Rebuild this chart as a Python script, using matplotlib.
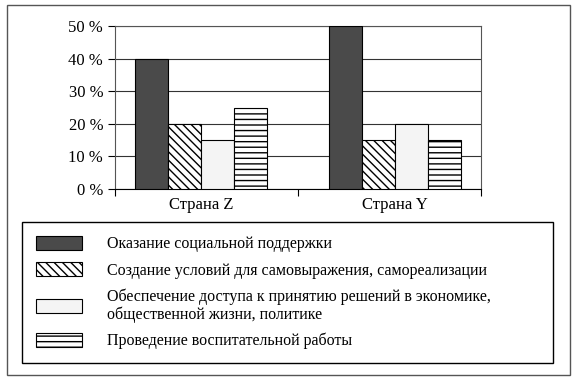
import matplotlib.pyplot as plt
import numpy as np
from matplotlib.patches import Rectangle

plt.rcParams['font.family'] = 'Liberation Serif'
plt.rcParams['hatch.linewidth'] = 1.0

countries = ["Страна Z", "Страна Y"]
labels = [
    "Оказание социальной поддержки",
    "Создание условий для самовыражения, самореализации",
    "Обеспечение доступа к принятию решений в экономике,\nобщественной жизни, политике",
    "Проведение воспитательной работы",
]
support = [40, 50]
selfexpr = [20, 15]
access = [15, 20]
education = [25, 15]
series = [support, selfexpr, access, education]

styles = [
    dict(color="#4a4a4a", hatch=None),
    dict(color="white", hatch="\\\\\\\\"),
    dict(color="#f4f4f4", hatch=None),
    dict(color="white", hatch="---"),
]

fig = plt.figure(figsize=(5.77, 3.82), dpi=100)
# outer frame
fig.patches.append(Rectangle((7 / 577, 1 - 375 / 382), 563 / 577, 370 / 382,
                             transform=fig.transFigure, fill=False,
                             edgecolor="#555555", linewidth=1.0))

ax = fig.add_axes([115 / 577, 1 - 189 / 382, 366 / 577, 163 / 382])
x = np.arange(len(countries))
w = 0.17
handles = []
for i, vals in enumerate(series):
    st = styles[i]
    b = ax.bar(x + (i - 1.5) * w, vals, w, color=st["color"], hatch=st["hatch"],
               edgecolor="black", linewidth=0.8, zorder=3)
    handles.append(b)

ax.set_ylim(0, 50)
ax.set_xlim(-0.443, 1.443)
ax.set_yticks(range(0, 51, 10))
ax.set_yticklabels([f"{v} %" for v in range(0, 51, 10)], fontsize=12)
ax.yaxis.grid(True, color="#333333", linewidth=0.8, zorder=0)
ax.set_xticks(x)
ax.set_xticklabels(countries, fontsize=12)
ax.tick_params(axis="x", length=0, pad=6)
ax.tick_params(axis="y", length=5, direction="out", width=0.8)
ax.set_xticks([-0.443, 0.5, 1.443], minor=True)
ax.tick_params(axis="x", which="minor", length=5, width=0.8)
for s in ax.spines.values():
    s.set_color("#555555")
    s.set_linewidth(0.8)
ax.spines["bottom"].set_color("black")

leg = fig.legend(handles, labels, loc="upper left",
                 bbox_to_anchor=(22 / 577, 1 - 360 / 382, 531 / 577, 138 / 382),
                 mode="expand", frameon=True, fancybox=False, fontsize=11.5,
                 handlelength=2.9, handleheight=1.0, handletextpad=1.6,
                 labelspacing=0.62, borderpad=0.85, borderaxespad=0)
for t in leg.get_texts():
    t.set_linespacing(1.1)
leg.get_frame().set_edgecolor("black")
leg.get_frame().set_linewidth(1.0)
leg.get_frame().set_alpha(1)

fig.savefig("out.png", dpi=100)
